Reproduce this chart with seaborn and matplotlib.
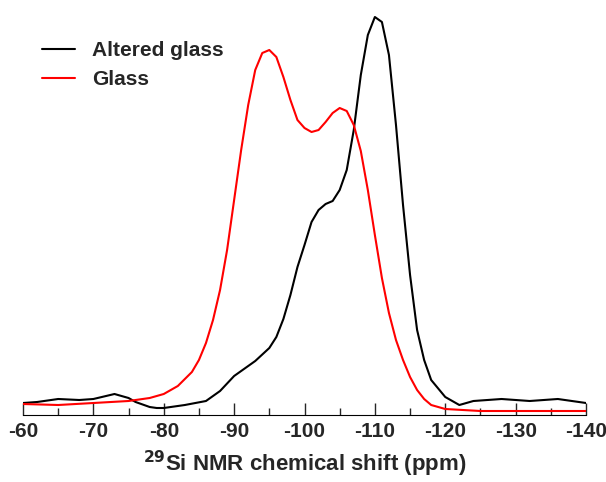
import matplotlib
matplotlib.use("Agg")
import matplotlib.pyplot as plt
import seaborn as sns
import numpy as np
from matplotlib.ticker import MultipleLocator

sns.set_style("white")
plt.rcParams['font.family'] = ['Liberation Sans', 'DejaVu Sans']
plt.rcParams['axes.unicode_minus'] = False

alt_x = [-60,-62,-65,-68,-70,-73,-75,-76,-78,-79,-80,-83,-86,-88,-90,-93,-95,-96,-97,-98,-99,-100,-101,-102,-103,-104,-105,-106,-107,-108,-109,-110,-111,-112,-113,-114,-115,-116,-117,-118,-120,-122,-124,-128,-132,-136,-140]
alt_y = [12,13,16,15,16,21,17,13,8,7,7,10,14,24,39,54,67,78,96,120,148,170,193,205,211,214,225,245,285,340,380,398,393,360,290,210,140,85,55,35,18,10,14,16,14,16,12]
gl_x = [-60,-65,-70,-75,-78,-80,-82,-84,-85,-86,-87,-88,-89,-90,-91,-92,-93,-94,-95,-96,-97,-98,-99,-100,-101,-102,-103,-104,-105,-106,-107,-108,-109,-110,-111,-112,-113,-114,-115,-116,-117,-118,-120,-125,-130,-140]
gl_y = [11,10,12,14,17,21,29,43,55,72,95,125,165,215,265,310,345,362,365,358,338,315,295,287,283,285,293,302,307,304,290,264,225,180,137,102,75,55,38,25,16,10,6,4,4,4]

fig, ax = plt.subplots(figsize=(6.06, 4.82), dpi=100)
fig.subplots_adjust(left=23/606, right=586/606, bottom=67/482, top=1-10/482)
sns.lineplot(x=alt_x, y=alt_y, color='black', lw=1.5, ax=ax, label='Altered glass', sort=False)
sns.lineplot(x=gl_x, y=gl_y, color='#ff0000', lw=1.5, ax=ax, label='Glass', sort=False)
ax.set_xlim(-60, -140)
ax.set_ylim(0, 405)
ax.set_yticks([])
for s in ['left', 'right', 'top']:
    ax.spines[s].set_visible(False)
ax.spines['bottom'].set_color('black')
ax.xaxis.set_major_locator(MultipleLocator(10))
ax.xaxis.set_minor_locator(MultipleLocator(5))
ax.tick_params(axis='x', which='major', direction='in', length=9, width=1, labelsize=15, pad=5, bottom=True)
ax.tick_params(axis='x', which='minor', direction='in', length=5, width=1, bottom=True)
for t in ax.get_xticklabels():
    t.set_fontweight('bold')
ax.set_xlabel(r'$\mathbf{^{29}}$Si NMR chemical shift (ppm)', fontsize=16, fontweight='bold', labelpad=6)
leg = ax.legend(loc='upper left', bbox_to_anchor=(0.0, 0.97), frameon=False, handlelength=1.6,
                prop={'weight': 'bold', 'size': 15}, labelspacing=0.5)
fig.savefig('out.png', dpi=100)
